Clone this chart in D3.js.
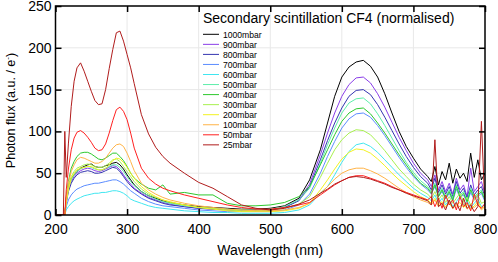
<!DOCTYPE html>
<html>
<head>
<meta charset="utf-8">
<script src="https://cdn.jsdelivr.net/npm/d3@7"></script>
<style>
  body { margin: 0; background: #fff; }
  svg { display: block; font-family: "Liberation Sans", Arial, Helvetica, sans-serif; }
</style>
</head>
<body>
<div id="container"></div>
<script>
// wavelength grid (nm) the spectra were read at
var wavelengths = [200, 211, 213, 215, 218, 222, 226, 230, 235, 240, 245, 250, 255, 260, 265, 270, 275, 280, 285, 290, 295, 300, 305, 310,
  320, 330, 340, 350, 360, 380, 400, 420, 440, 460, 480, 500, 520, 540,
  555, 570, 580, 590, 600, 610, 620, 630, 640, 650, 660, 670, 680, 690, 700, 710,
  720, 725, 730, 735, 740, 745, 750, 755, 760, 765, 770, 775, 780, 785, 790, 795, 800]

var pressures = ["1000mbar", "900mbar", "800mbar", "700mbar", "600mbar", "500mbar", "400mbar", "300mbar", "200mbar", "100mbar", "50mbar", "25mbar"]
var colors = ["#000000", "#8a3ee8", "#3434b0", "#5b8cff", "#40e6f0", "#5eeeaa", "#2ec82e", "#a8f050", "#f2f222", "#ffb347", "#ff2020", "#b01c1c"]

var f1000 = [0,0,0,20,34,44,48,52,56,58,60,61,58,57,57,59,60,62,63,60,55,48,42,36, 28,23,20,17,15,12,10,9,8,7,7,8,11,20, 42,78,110,142,165,177,183,185,178,165,145,122,100,82,68,55, 46,40,58,36,52,42,62,38,55,44,50,40,74,45,66,42,50]
var f900 = [0,0,0,16,30,40,46,50,53,55,56,55,53,52,53,55,57,59,58,54,48,42,37,32, 26,21,18,15,13,10,8,7,6,5,5,6,9,18, 37,72,98,122,142,156,164,165,158,145,129,111,93,77,62,50, 42,34,48,30,40,28,38,25,44,30,36,22,56,28,34,40,25]
var f800 = [0,0,0,14,28,38,44,48,51,52,53,52,50,50,51,53,55,57,56,52,46,40,35,31, 25,20,17,14,12,10,8,7,6,5,5,6,9,17, 34,66,89,110,128,142,149,150,144,132,117,101,85,70,57,46, 38,30,44,27,36,25,34,22,40,26,32,20,36,24,30,34,22]
var f700 = [0,0,0,10,18,24,28,31,33,35,36,37,38,38,39,40,41,42,42,40,37,33,29,26, 20,16,13,11,10,8,6,5,4,4,4,4,6,12, 25,50,70,88,104,115,121,122,117,107,95,82,69,57,46,37, 30,25,34,22,28,19,26,17,31,21,24,15,27,18,22,26,16]
var f600 = [0,0,0,6,10,14,17,19,21,23,24,25,26,26,27,27,28,29,29,28,26,23,19,17, 14,11,9,8,7,5,4,3,3,2,2,2,3,6, 12,26,34,48,63,76,84,86,82,75,66,57,48,40,32,26, 21,17,24,14,20,12,18,10,16,22,12,17,9,14,19,10,12]
var f500 = [0,0,0,16,32,42,48,52,55,57,58,57,55,54,54,56,58,60,60,57,52,46,40,35, 28,23,19,16,14,11,9,8,7,6,6,7,10,18, 32,62,84,104,122,134,139,140,133,121,107,92,77,63,51,41, 34,28,38,24,32,22,30,20,36,24,28,18,32,22,26,30,20]
var f400 = [0,0,0,22,40,56,64,70,74,75,75,73,70,67,66,68,71,74,74,70,65,58,50,44, 37,32,30,36,25,27,24,24,14,11,11,12,15,22, 34,60,78,96,112,122,127,128,121,110,98,85,72,60,48,38, 32,26,36,22,30,20,28,18,34,22,26,16,30,20,24,28,18]
var f300 = [0,0,0,18,34,46,52,56,58,60,61,60,58,57,57,59,62,66,67,64,58,52,46,40, 31,25,21,18,15,12,9,8,6,5,5,6,8,13, 22,45,62,78,90,98,102,101,96,87,77,66,55,46,37,30, 25,20,28,18,24,15,22,14,20,26,16,21,12,18,24,14,16]
var f200 = [0,0,0,15,30,44,50,54,56,57,58,58,56,54,54,56,60,65,68,67,63,57,50,44, 34,27,22,18,16,12,9,7,5,4,4,4,5,8, 14,30,42,55,67,75,79,78,74,67,59,50,42,35,28,22, 18,14,20,12,16,10,14,8,12,15,9,13,7,11,16,8,10]
var f100 = [0,0,0,20,38,52,60,66,69,68,66,64,62,62,64,68,74,80,84,85,82,74,64,53, 38,30,25,21,18,14,11,9,7,6,5,5,6,9, 14,26,34,43,50,54,56,56,53,49,44,38,32,27,22,18, 15,12,18,10,14,9,16,8,12,10,15,7,11,9,13,6,10]
var f50 = [0,0,0,30,55,78,92,99,101,98,93,87,80,77,78,85,98,113,126,129,124,114,98,80, 56,44,37,32,29,24,20,16,12,9,7,7,9,12, 15,24,30,36,41,45,47,47,44,41,38,34,30,27,24,21, 18,22,10,20,8,24,12,18,6,22,10,15,5,25,12,8,14]
var f25 = [0,0,100,45,85,130,160,176,182,172,160,148,137,132,133,150,175,198,218,220,208,192,176,157, 120,97,81,70,62,50,39,32,22,12,8,6,8,13, 18,26,31,37,41,45,46,45,43,40,37,33,30,26,23,20, 17,12,90,10,14,6,18,8,15,5,20,8,12,4,10,112,6]

var seriesValues = [f1000, f900, f800, f700, f600, f500, f400, f300, f200, f100, f50, f25]

var xTicks = [200, 300, 400, 500, 600, 700, 800]
var yTicks = [0, 50, 100, 150, 200, 250]

var width = 498, height = 262
var plotL = 55.5, plotR = 485, plotT = 6, plotB = 215

var svg = d3.select("#container").append("svg")
  .attr("width", width)
  .attr("height", height)

var x = d3.scaleLinear().domain([200, 800]).range([plotL, plotR])
var y = d3.scaleLinear().domain([0, 250]).range([plotB, plotT])

// light grid
svg.append("g").selectAll("line")
  .data(xTicks.slice(1, -1))
  .enter().append("line")
    .attr("x1", d => x(d)).attr("x2", d => x(d))
    .attr("y1", plotT).attr("y2", plotB)
    .attr("stroke", "#e8e8e8")
svg.append("g").selectAll("line")
  .data(yTicks.slice(1, -1))
  .enter().append("line")
    .attr("x1", plotL).attr("x2", plotR)
    .attr("y1", d => y(d)).attr("y2", d => y(d))
    .attr("stroke", "#e8e8e8")

svg.append("clipPath").attr("id", "plot")
  .append("rect")
    .attr("x", plotL).attr("y", plotT)
    .attr("width", plotR - plotL).attr("height", plotB - plotT)

var line = d3.line()
  .x((d, i) => x(wavelengths[i]))
  .y(d => y(d))

svg.append("g").attr("clip-path", "url(#plot)")
  .selectAll("path")
  .data(seriesValues)
  .enter().append("path")
    .attr("fill", "none")
    .attr("stroke", (d, i) => colors[i])
    .attr("stroke-width", 1)
    .attr("stroke-linejoin", "round")
    .attr("d", line)

// axes, ticks drawn inward on all four sides
function tickFont(g) {
  g.select(".domain").remove()
  g.selectAll("line").attr("stroke", "#000").attr("stroke-width", 1.5)
  g.selectAll("text").attr("font-size", "14px").attr("fill", "#000")
    .attr("font-family", "'Liberation Sans', Arial, Helvetica, sans-serif")
}

svg.append("g")
  .attr("transform", "translate(0," + plotB + ")")
  .call(d3.axisBottom(x).tickValues(xTicks).tickSizeInner(-6).tickSizeOuter(0).tickPadding(9))
  .call(tickFont)
svg.append("g")
  .attr("transform", "translate(" + plotL + ",0)")
  .call(d3.axisLeft(y).tickValues(yTicks).tickSizeInner(-6).tickSizeOuter(0).tickPadding(4))
  .call(tickFont)
svg.append("g")
  .attr("transform", "translate(0," + plotT + ")")
  .call(d3.axisTop(x).tickValues(xTicks).tickSizeInner(-6).tickSizeOuter(0).tickFormat(""))
  .call(tickFont)
svg.append("g")
  .attr("transform", "translate(" + plotR + ",0)")
  .call(d3.axisRight(y).tickValues(yTicks).tickSizeInner(-6).tickSizeOuter(0).tickFormat(""))
  .call(tickFont)

svg.append("rect")
  .attr("x", plotL).attr("y", plotT)
  .attr("width", plotR - plotL).attr("height", plotB - plotT)
  .attr("fill", "none")
  .attr("stroke", "#000")
  .attr("stroke-width", 1.5)

// axis titles
svg.append("text")
  .attr("x", (plotL + plotR) / 2).attr("y", 255)
  .attr("text-anchor", "middle")
  .attr("font-size", "14px")
  .text("Wavelength (nm)")

var yTitle = svg.append("text")
  .attr("transform", "translate(15," + ((plotT + plotB) / 2) + ") rotate(-90)")
  .attr("text-anchor", "middle")
  .attr("font-size", "12.5px")
yTitle.append("tspan").text("Photon flux (a.u. / e")
yTitle.append("tspan").attr("font-size", "8px").attr("dy", -5).text("-")
yTitle.append("tspan").attr("dy", 5).text(")")

// legend
svg.append("text")
  .attr("x", 203).attr("y", 23)
  .attr("font-size", "14px")
  .text("Secondary scintillation CF4 (normalised)")

var legend = svg.append("g").selectAll("g")
  .data(pressures)
  .enter().append("g")
    .attr("transform", (d, i) => "translate(203," + (34.3 + i * 10.05) + ")")

legend.append("line")
  .attr("x1", 0).attr("x2", 16)
  .attr("stroke", (d, i) => colors[i])
  .attr("stroke-width", 1)

legend.append("text")
  .attr("x", 20).attr("y", 3.2)
  .attr("font-size", "8.6px")
  .text(d => d)
</script>
</body>
</html>
